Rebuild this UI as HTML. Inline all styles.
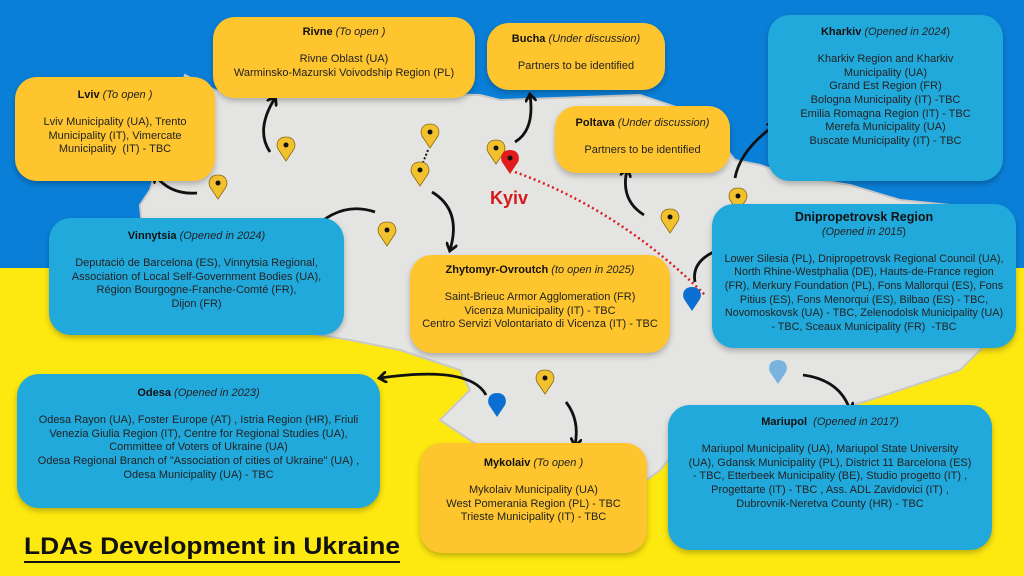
<!DOCTYPE html>
<html><head><meta charset="utf-8"><style>
body{margin:0;width:1024px;height:576px;overflow:hidden;font-family:"Liberation Sans",sans-serif;position:relative;background:#fde910}
.box{position:absolute;border-radius:22px;text-align:center;font-size:11px;line-height:13.6px;color:#222;box-shadow:0 3px 6px rgba(0,0,0,.25);box-sizing:border-box}
.y{background:#fec52e}.b{background:#22a9dc}
.box b{color:#111}
</style></head><body>
<svg width="1024" height="576" style="position:absolute;left:0;top:0">
<defs>
<marker id="ah" markerWidth="12" markerHeight="12" refX="7" refY="6" orient="auto" markerUnits="userSpaceOnUse"><path d="M0,0 L8,6 L0,12" fill="none" stroke="#111" stroke-width="2.8"/></marker>
<path id="pin" d="M0,0 C-9,0 -10,8 -8,12 L0,24 L8,12 C10,8 9,0 0,0Z"/>
</defs>
<rect x="0" y="0" width="1024" height="268" fill="#0a7fd8"/>
<rect x="0" y="268" width="1024" height="308" fill="#fde910"/>
<polygon points="185,75 215,90 480,95 500,100 640,95 700,115 735,160 760,165 790,175 850,185 900,200 1000,210 1000,330 960,370 870,400 800,420 700,420 660,470 620,500 600,540 520,470 470,440 440,420 470,390 460,370 400,350 350,340 290,330 200,300 145,260 140,205 150,190" fill="#e4e4e2" stroke="#c9c9c9" stroke-width="2"/>
<path d="M515,172 Q620,210 705,295" fill="none" stroke="#d92020" stroke-width="2.5" stroke-dasharray="2,3"/>
<path d="M428,150 L422,165" stroke="#111" stroke-width="2" stroke-dasharray="2,2"/>
<g fill="none" stroke="#111" stroke-width="2.8" marker-end="url(#ah)">
<path d="M197,193 Q170,195 155,175"/>
<path d="M270,152 Q255,130 275,98"/>
<path d="M375,212 Q340,200 310,232"/>
<path d="M432,192 Q462,210 450,250"/>
<path d="M515,142 Q535,130 530,95"/>
<path d="M644,215 Q620,200 627,170"/>
<path d="M735,178 Q740,150 775,125"/>
<path d="M695,282 Q690,255 735,245"/>
<path d="M486,395 Q470,365 380,378"/>
<path d="M566,402 Q580,420 575,445"/>
<path d="M803,375 Q840,380 850,410"/>
</g>
<g fill="#f2c12e" stroke="#8a6b10" stroke-width="0.8">
<use href="#pin" x="218" y="175"/><use href="#pin" x="286" y="137"/><use href="#pin" x="430" y="124"/>
<use href="#pin" x="420" y="162"/><use href="#pin" x="387" y="222"/><use href="#pin" x="496" y="140"/>
<use href="#pin" x="670" y="209"/><use href="#pin" x="738" y="188"/><use href="#pin" x="545" y="370"/>
</g>
<use href="#pin" x="510" y="150" fill="#e01b1b"/>
<use href="#pin" x="692" y="287" fill="#0a6fd0"/>
<use href="#pin" x="497" y="393" fill="#0a6fd0"/>
<use href="#pin" x="778" y="360" fill="#7ab3e0"/>
<g fill="#111"><circle cx="218" cy="183" r="2.5"/><circle cx="286" cy="145" r="2.5"/><circle cx="430" cy="132" r="2.5"/><circle cx="420" cy="170" r="2.5"/><circle cx="387" cy="230" r="2.5"/><circle cx="496" cy="148" r="2.5"/><circle cx="670" cy="217" r="2.5"/><circle cx="738" cy="196" r="2.5"/><circle cx="545" cy="378" r="2.5"/><circle cx="510" cy="158" r="2.5"/></g>
<text x="490" y="204" font-family="Liberation Sans" font-weight="bold" font-size="18" fill="#d61a1a">Kyiv</text>
<text x="24" y="554" font-family="Liberation Sans" font-weight="bold" font-size="24" fill="#111" textLength="376" lengthAdjust="spacingAndGlyphs">LDAs Development in Ukraine</text>
<rect x="24" y="561" width="376" height="2" fill="#111"/>
</svg>

<div class="box y" style="left:213px;top:17px;width:262px;height:81px;padding-top:9px"><b>Rivne</b> <i>(To open )</i><br><br>Rivne Oblast (UA)<br>Warminsko-Mazurski Voivodship Region (PL)</div>
<div class="box y" style="left:487px;top:23px;width:178px;height:67px;padding-top:10px"><b>Bucha</b> <i>(Under discussion)</i><br><br>Partners to be identified</div>
<div class="box y" style="left:15px;top:77px;width:200px;height:104px;padding-top:12px"><b>Lviv</b> <i>(To open )</i><br><br>Lviv Municipality (UA), Trento<br>Municipality (IT), Vimercate<br>Municipality &nbsp;(IT) - TBC</div>
<div class="box y" style="left:555px;top:106px;width:175px;height:67px;padding-top:11px"><b>Poltava</b> <i>(Under discussion)</i><br><br>Partners to be identified</div>
<div class="box b" style="left:768px;top:15px;width:235px;height:166px;padding-top:11px"><b>Kharkiv</b> <i>(Opened in 2024</i>)<br><br>Kharkiv Region and Kharkiv<br>Municipality (UA)<br>Grand Est Region (FR)<br>Bologna Municipality (IT) -TBC<br>Emilia Romagna Region (IT) - TBC<br>Merefa Municipality (UA)<br>Buscate Municipality (IT) - TBC</div>
<div class="box b" style="left:49px;top:218px;width:295px;height:117px;padding-top:12px"><b>Vinnytsia</b> <i>(Opened in 2024)</i><br><br>Deputació de Barcelona (ES), Vinnytsia Regional,<br>Association of Local Self-Government Bodies (UA),<br>Région Bourgogne-Franche-Comté (FR),<br>Dijon (FR)</div>
<div class="box y" style="left:410px;top:255px;width:260px;height:98px;padding-top:9px"><b>Zhytomyr-Ovroutch</b> <i>(to open in 2025)</i><br><br>Saint-Brieuc Armor Agglomeration (FR)<br>Vicenza Municipality (IT) - TBC<br>Centro Servizi Volontariato di Vicenza (IT) - TBC</div>
<div class="box b" style="left:712px;top:204px;width:304px;height:144px;padding-top:7px;font-size:10.8px"><b style="font-size:12.5px">Dnipropetrovsk Region</b><br><i>(Opened in 2015</i>)<br><br>Lower Silesia (PL), Dnipropetrovsk Regional Council (UA),<br>North Rhine-Westphalia (DE), Hauts-de-France region<br>(FR), Merkury Foundation (PL), Fons Mallorqui (ES), Fons<br>Pitius (ES), Fons Menorqui (ES), Bilbao (ES) - TBC,<br>Novomoskovsk (UA) - TBC, Zelenodolsk Municipality (UA)<br>- TBC, Sceaux Municipality (FR) &nbsp;-TBC</div>
<div class="box b" style="left:17px;top:374px;width:363px;height:134px;padding-top:13px"><b>Odesa</b> <i>(Opened in 2023)</i><br><br>Odesa Rayon (UA), Foster Europe (AT) , Istria Region (HR), Friuli<br>Venezia Giulia Region (IT), Centre for Regional Studies (UA),<br>Committee of Voters of Ukraine (UA)<br>Odesa Regional Branch of "Association of cities of Ukraine" (UA) ,<br>Odesa Municipality (UA) - TBC</div>
<div class="box y" style="left:420px;top:443px;width:227px;height:110px;padding-top:14px"><b>Mykolaiv</b> <i>(To open )</i><br><br>Mykolaiv Municipality (UA)<br>West Pomerania Region (PL) - TBC<br>Trieste Municipality (IT) - TBC</div>
<div class="box b" style="left:668px;top:405px;width:324px;height:145px;padding-top:11px"><b>Mariupol</b> &nbsp;<i>(Opened in 2017)</i><br><br>Mariupol Municipality (UA), Mariupol State University<br>(UA), Gdansk Municipality (PL), District 11 Barcelona (ES)<br>- TBC, Etterbeek Municipality (BE), Studio progetto (IT) ,<br>Progettarte (IT) - TBC , Ass. ADL Zavidovici (IT) ,<br>Dubrovnik-Neretva County (HR) - TBC</div>
</body></html>
